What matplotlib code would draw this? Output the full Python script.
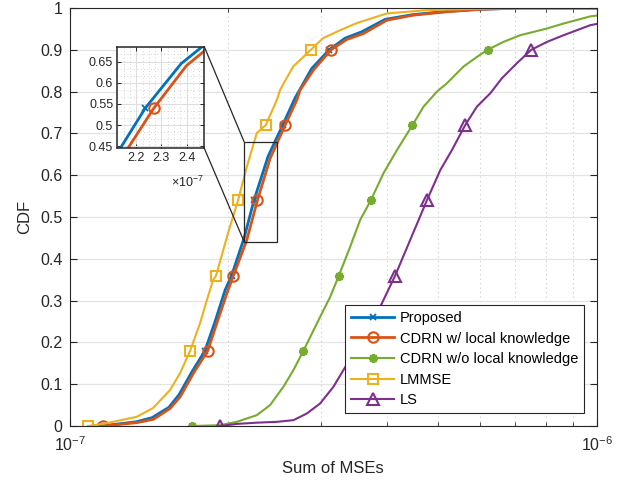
import numpy as np
import matplotlib
matplotlib.use("Agg")
import matplotlib.pyplot as plt
from matplotlib.ticker import LogLocator, NullFormatter, FuncFormatter, AutoMinorLocator, MultipleLocator
from matplotlib.patches import Rectangle, ConnectionPatch

plt.rcParams['font.family'] = ['Liberation Sans', 'DejaVu Sans']
plt.rcParams['mathtext.fontset'] = 'custom'
plt.rcParams['mathtext.rm'] = 'Liberation Sans'
plt.rcParams['mathtext.it'] = 'Liberation Sans:italic'

SCALE = 1e-7  # MSE values below are in units of 1e-7

# Proposed
prop_x = [1.147, 1.336, 1.433, 1.543, 1.612, 1.706, 1.805, 1.887, 1.971, 2.028, 2.142, 2.236,
          2.378, 2.535, 2.676, 2.876, 3.105, 3.330, 3.578, 3.966, 4.462, 5.176, 6.005, 7.152, 10.0]
prop_cdf = [0, 0.01, 0.02, 0.045, 0.075, 0.13, 0.18, 0.25, 0.325, 0.36, 0.45, 0.54,
            0.645, 0.72, 0.785, 0.855, 0.9, 0.928, 0.943, 0.973, 0.984, 0.992, 0.997, 1.0, 1.0]

# CDRN w/ local knowledge
cdrn_x = [1.158, 1.340, 1.441, 1.550, 1.620, 1.716, 1.827, 1.901, 1.986, 2.044, 2.167, 2.270, 2.399,
          2.562, 2.696, 2.735, 2.900, 3.129, 3.355, 3.607, 3.996, 4.487, 5.193, 6.005, 7.152, 10.0]
cdrn_cdf = [0, 0.008, 0.016, 0.042, 0.070, 0.126, 0.18, 0.246, 0.317, 0.36, 0.445, 0.54, 0.64,
            0.72, 0.78, 0.804, 0.852, 0.9, 0.925, 0.939, 0.971, 0.983, 0.991, 0.997, 1.0, 1.0]

# CDRN w/o local knowledge
cdrn_wo_x = [1.708, 1.929, 2.074, 2.264, 2.399, 2.543, 2.657, 2.775, 2.985, 3.119, 3.240, 3.404, 3.555,
             3.725, 3.937, 4.174, 4.468, 4.688, 4.971, 5.193, 5.583, 5.919, 6.201, 6.649, 7.152,
             8.039, 8.644, 9.712, 10.0]
cdrn_wo_cdf = [0, 0.002, 0.010, 0.026, 0.050, 0.094, 0.134, 0.18, 0.261, 0.309, 0.36, 0.429, 0.493,
               0.54, 0.605, 0.66, 0.72, 0.764, 0.80, 0.82, 0.86, 0.883, 0.9, 0.919, 0.935,
               0.951, 0.963, 0.980, 0.982]

# LMMSE
lmmse_x = [1.083, 1.157, 1.340, 1.439, 1.550, 1.620, 1.692, 1.767, 1.820, 1.870, 1.895, 1.997, 2.086,
           2.167, 2.264, 2.354, 2.471, 2.506, 2.653, 2.866, 3.024, 3.258, 3.504, 3.880, 3.996,
           4.758, 6.357, 10.0]
lmmse_cdf = [0, 0.005, 0.022, 0.043, 0.086, 0.127, 0.18, 0.246, 0.301, 0.349, 0.36, 0.462, 0.54,
             0.62, 0.701, 0.72, 0.78, 0.804, 0.86, 0.9, 0.928, 0.947, 0.964, 0.982, 0.987,
             0.995, 0.999, 1.0]

# LS
ls_x = [1.929, 2.074, 2.264, 2.471, 2.657, 2.817, 2.985, 3.164, 3.305, 3.478, 3.649, 3.880, 4.143,
        4.423, 4.758, 5.043, 5.307, 5.625, 5.919, 6.275, 6.602, 7.049, 7.504, 8.039, 8.644, 9.712, 10.0]
ls_cdf = [0, 0.005, 0.008, 0.010, 0.014, 0.030, 0.054, 0.094, 0.134, 0.18, 0.227, 0.285, 0.36,
          0.445, 0.54, 0.612, 0.66, 0.72, 0.764, 0.796, 0.832, 0.868, 0.9, 0.919, 0.935, 0.959, 0.962]

MARK_LEVELS = [0, 0.18, 0.36, 0.54, 0.72, 0.9]

# name, x, cdf, colour, marker, size, line width, marker edge width, filled
series = [
    ("Proposed", prop_x, prop_cdf, '#0072BD', 'x', 5, 2.0, 1.3, True),
    ("CDRN w/ local knowledge", cdrn_x, cdrn_cdf, '#D95319', 'o', 7.5, 2.0, 1.5, False),
    ("CDRN w/o local knowledge", cdrn_wo_x, cdrn_wo_cdf, '#77AC30', (8, 2, 0), 6.5, 1.5, 1.6, True),
    ("LMMSE", lmmse_x, lmmse_cdf, '#EDB120', 's', 6.5, 1.5, 1.5, False),
    ("LS", ls_x, ls_cdf, '#7E2F8E', '^', 8.5, 1.5, 1.5, False),
]


def mark_idx(cdf):
    idx = []
    for lv in MARK_LEVELS:
        for i, c in enumerate(cdf):
            if abs(c - lv) < 1e-9:
                idx.append(i)
                break
    return idx


fig = plt.figure(figsize=(6.29, 4.84), dpi=100)
ax = fig.add_axes([0.1108, 0.1198, 0.8383, 0.8636])

for name, xs, cs, col, mk, ms, lw, mew, filled in series:
    ax.plot(np.array(xs) * SCALE, cs, color=col, lw=lw, marker=mk, ms=ms,
            mfc=col if filled else 'none', mew=mew,
            markevery=mark_idx(cs), label=name)

ax.set_xscale('log')
ax.set_xlim(1e-7, 1e-6)
ax.set_ylim(0, 1)
ax.xaxis.set_major_locator(LogLocator(base=10, numticks=5))
ax.xaxis.set_minor_locator(LogLocator(base=10, subs=np.arange(2, 10), numticks=10))
ax.xaxis.set_minor_formatter(NullFormatter())
ax.yaxis.set_major_locator(MultipleLocator(0.1))
ax.yaxis.set_major_formatter(FuncFormatter(lambda v, p: f"{v:g}"))

ax.grid(True, which='major', axis='y', color='#e3e3e3', lw=0.9, ls='-')
ax.grid(True, which='minor', axis='x', color='#c8c8c8', lw=0.8, ls=(0, (1, 3)))
ax.set_axisbelow(True)

ax.tick_params(which='both', direction='in', top=True, right=True, colors='#262626',
               labelsize=11.5, labelcolor='#262626')
ax.tick_params(which='major', length=5, width=0.8)
ax.tick_params(which='minor', length=3, width=0.6)
ax.tick_params(axis='x', which='major', pad=7)
ax.tick_params(axis='y', which='major', pad=5)
for s in ax.spines.values():
    s.set_color('#262626')
    s.set_linewidth(0.8)

ax.set_xlabel("Sum of MSEs", fontsize=12, color='#262626', labelpad=5)
ax.set_ylabel("CDF", fontsize=12, color='#262626', labelpad=6)

leg = ax.legend(loc='lower right', bbox_to_anchor=(0.975, 0.031), fontsize=10.5,
                frameon=True, fancybox=False, framealpha=1, edgecolor='#262626',
                handlelength=3.0, borderpad=0.4, labelspacing=0.45, handletextpad=0.35,
                borderaxespad=0)
leg.get_frame().set_linewidth(0.8)

# zoom rectangle on main axes
rect_x = [2.142, 2.477]
rect_y = [0.441, 0.680]
ax.add_patch(Rectangle((rect_x[0] * SCALE, rect_y[0]), (rect_x[1] - rect_x[0]) * SCALE,
                       rect_y[1] - rect_y[0], fill=False, ec='#262626', lw=0.9, zorder=5))

# inset
axin = fig.add_axes([0.1865, 0.6936, 0.1383, 0.2099])
for name, xs, cs, col, mk, ms, lw, mew, filled in series[:2]:
    axin.plot(xs, cs, color=col, lw=lw, marker=mk, ms=ms,
              mfc=col if filled else 'none', mew=mew,
              markevery=[cs.index(0.54)])
axin.set_xlim(2.125, 2.47)
axin.set_ylim(0.445, 0.685)
axin.xaxis.set_major_locator(MultipleLocator(0.1))
axin.yaxis.set_major_locator(MultipleLocator(0.05))
axin.xaxis.set_major_formatter(FuncFormatter(lambda v, p: f"{v:g}"))
axin.yaxis.set_major_formatter(FuncFormatter(lambda v, p: f"{v:g}"))
axin.xaxis.set_minor_locator(AutoMinorLocator(4))
axin.yaxis.set_minor_locator(AutoMinorLocator(3))
axin.grid(True, which='major', color='#dedede', lw=0.8, ls='-')
axin.grid(True, which='minor', color='#c8c8c8', lw=0.6, ls=(0, (1, 3)))
axin.set_axisbelow(True)
axin.tick_params(which='both', direction='in', top=True, right=True, colors='#262626',
                 labelsize=9, labelcolor='#262626', pad=3)
axin.tick_params(which='major', length=3, width=0.7)
axin.tick_params(which='minor', length=0)
for s in axin.spines.values():
    s.set_color('#262626')
    s.set_linewidth(1.1)
axin.text(1.0, -0.34, r'$\times10^{-7}$', transform=axin.transAxes, ha='right', va='center',
          fontsize=9, color='#262626')

# connector lines: inset top-right -> rect top-left, inset bottom-right -> rect bottom-left
for ya, yb in [(1, rect_y[1]), (0, rect_y[0])]:
    con = ConnectionPatch(xyA=(1, ya), coordsA=axin.transAxes,
                          xyB=(rect_x[0] * SCALE, yb), coordsB=ax.transData,
                          color='#262626', lw=0.9)
    fig.add_artist(con)

fig.savefig("out.png", dpi=100)
